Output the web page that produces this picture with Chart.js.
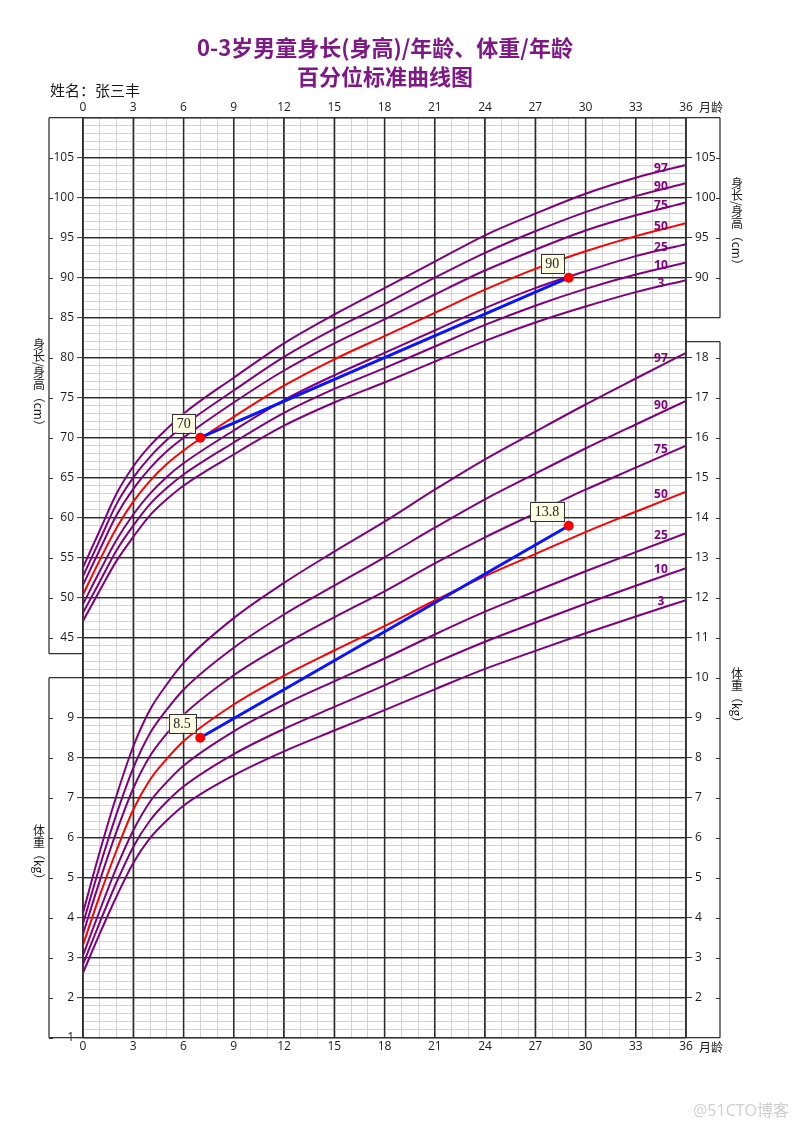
<!DOCTYPE html>
<html><head><meta charset="utf-8">
<script src="https://cdn.jsdelivr.net/npm/chart.js@4/dist/chart.umd.min.js"></script>
<style>html,body{margin:0;padding:0;background:#fff;}canvas{display:block}</style>
</head><body>
<canvas id="c" width="800" height="1131" style="width:800px;height:1131px"></canvas>
<script>
// ---------- data ----------
const ageMonths = [0,1,2,3,4,5,6,9,12,15,18,21,24,27,30,33,36];
const percentileNames = ['3','10','25','50','75','90','97'];

const heightP3  = [47.1,50.9,54.6,57.6,60.3,62.3,64.0,67.9,71.5,74.4,76.9,79.5,82.1,84.4,86.4,88.2,89.7];
const heightP10 = [48.1,52.0,55.9,59.0,61.7,63.7,65.4,69.4,73.1,76.1,78.7,81.4,84.1,86.5,88.6,90.4,91.9];
const heightP25 = [49.2,53.3,57.2,60.4,63.0,65.1,66.8,70.9,74.7,77.8,80.6,83.4,86.2,88.7,90.8,92.7,94.2];
const heightP50 = [50.4,54.7,58.7,62.0,64.6,66.7,68.4,72.6,76.5,79.8,82.7,85.6,88.5,91.1,93.3,95.2,96.8];
const heightP75 = [51.6,56.0,60.3,63.6,66.2,68.3,70.0,74.4,78.4,81.8,84.8,87.9,90.9,93.5,95.9,97.8,99.4];
const heightP90 = [52.7,57.2,61.7,65.0,67.6,69.7,71.5,75.9,80.1,83.6,86.7,90.0,93.1,95.8,98.2,100.2,101.8];
const heightP97 = [53.8,58.4,63.0,66.4,69.0,71.1,73.0,77.5,81.8,85.4,88.7,92.0,95.3,98.0,100.5,102.5,104.1];

const weightP3  = [2.62,3.60,4.53,5.37,5.99,6.43,6.80,7.56,8.16,8.68,9.19,9.71,10.22,10.67,11.11,11.53,11.94];
const weightP10 = [2.83,3.88,4.88,5.77,6.43,6.90,7.28,8.09,8.72,9.27,9.81,10.37,10.90,11.38,11.85,12.30,12.74];
const weightP25 = [3.06,4.18,5.25,6.18,6.90,7.39,7.80,8.66,9.33,9.91,10.48,11.08,11.65,12.16,12.66,13.14,13.61];
const weightP50 = [3.32,4.55,5.68,6.70,7.45,7.97,8.41,9.33,10.05,10.68,11.29,11.93,12.54,13.09,13.64,14.15,14.65];
const weightP75 = [3.59,4.92,6.15,7.23,8.04,8.60,9.07,10.06,10.83,11.51,12.16,12.86,13.51,14.11,14.70,15.25,15.80];
const weightP90 = [3.85,5.28,6.59,7.74,8.61,9.20,9.70,10.75,11.58,12.30,13.01,13.75,14.46,15.10,15.73,16.33,16.92];
const weightP97 = [4.12,5.65,7.05,8.28,9.20,9.83,10.37,11.49,12.37,13.15,13.90,14.70,15.46,16.15,16.83,17.48,18.12];

const childAges = [7, 29];
const childHeights = [70, 90];
const childWeights = [8.5, 13.8];

const monthTicks = [0,3,6,9,12,15,18,21,24,27,30,33,36];
const leftHeightTicks = [45,50,55,60,65,70,75,80,85,90,95,100,105];
const leftWeightTicks = [1,2,3,4,5,6,7,8,9];
const rightHeightTicks = [90,95,100,105];
const rightWeightTicks = [2,3,4,5,6,7,8,9,10,11,12,13,14,15,16,17,18];

// ---------- setup ----------
const heightSeries = [heightP3,heightP10,heightP25,heightP50,heightP75,heightP90,heightP97];
const weightSeries = [weightP3,weightP10,weightP25,weightP50,weightP75,weightP90,weightP97];
const W_MIN = 1, W_MAX = 24, H_MIN = -5, H_MAX = 110;
const hToW = h => W_MIN + (h - H_MIN) / (H_MAX - H_MIN) * (W_MAX - W_MIN);
const PURPLE = '#800080', RED = '#ff0000', BLUE = '#0a14ff';
const MAJOR = '#2a2a2a', MINOR = '#d3d3d3';
const FONT = "'Open Sans','Noto Sans CJK SC',sans-serif";
const CJK = "'Noto Sans CJK SC',sans-serif";

function labelFor(v, wt, ht) {
  const k = Math.round(v * 5);
  if (k % 5 !== 0) return '';
  const w = k / 5;
  if (wt.includes(w)) return String(w);
  for (const h of ht) if (Math.abs(hToW(h) - w) < 1e-6) return String(h);
  return '';
}

Chart.defaults.font.family = FONT;
Chart.defaults.font.size = 12;
Chart.defaults.color = '#1a1a1a';

const datasets = [];
datasets.push({
  data: childAges.map((a, i) => ({x: a, y: childHeights[i]})), yAxisID: 'yH',
  borderColor: BLUE, borderWidth: 3, pointRadius: 5, pointBackgroundColor: RED,
  pointBorderColor: RED, pointBorderWidth: 0, order: 0, tension: 0
});
datasets.push({
  data: childAges.map((a, i) => ({x: a, y: childWeights[i]})), yAxisID: 'yW',
  borderColor: BLUE, borderWidth: 3, pointRadius: 5, pointBackgroundColor: RED,
  pointBorderColor: RED, pointBorderWidth: 0, order: 0, tension: 0
});
heightSeries.forEach((s, i) => datasets.push({
  data: ageMonths.map((a, j) => ({x: a, y: s[j]})), yAxisID: 'yH',
  borderColor: i === 3 ? RED : PURPLE, borderWidth: 2, pointRadius: 0,
  cubicInterpolationMode: 'monotone', order: i === 3 ? 1 : 2
}));
weightSeries.forEach((s, i) => datasets.push({
  data: ageMonths.map((a, j) => ({x: a, y: s[j]})), yAxisID: 'yW',
  borderColor: i === 3 ? RED : PURPLE, borderWidth: 2, pointRadius: 0,
  cubicInterpolationMode: 'monotone', order: i === 3 ? 1 : 2
}));

function interpAt(series, age) {
  for (let j = 0; j < ageMonths.length - 1; j++) {
    if (age >= ageMonths[j] && age <= ageMonths[j + 1]) {
      const t = (age - ageMonths[j]) / (ageMonths[j + 1] - ageMonths[j]);
      return series[j] + t * (series[j + 1] - series[j]);
    }
  }
  return series[series.length - 1];
}

function drawVertical(ctx, text, cx, top, size) {
  let y = top;
  ctx.save();
  ctx.font = size + 'px ' + CJK;
  ctx.fillStyle = '#1a1a1a';
  ctx.textAlign = 'center';
  ctx.textBaseline = 'middle';
  for (const ch of text) {
    const isCJK = /[\u4e00-\u9fff]/.test(ch);
    const w = ctx.measureText(ch).width;
    if (isCJK) {
      ctx.fillText(ch, cx, y + size / 2);
      y += size;
    } else {
      ctx.save();
      ctx.translate(cx, y + w / 2);
      ctx.rotate(Math.PI / 2);
      ctx.fillText(ch, 0, 0);
      ctx.restore();
      y += w;
    }
  }
  ctx.restore();
}

const decor = {
  id: 'decor',
  beforeDatasetsDraw(chart) {
    // re-stroke major grid lines above the minor ones
    const ctx = chart.ctx;
    const {x, yW} = chart.scales;
    const a = chart.chartArea;
    ctx.save();
    ctx.strokeStyle = MAJOR;
    ctx.lineWidth = 1.3;
    monthTicks.forEach(m => {
      const px = x.getPixelForValue(m);
      ctx.beginPath(); ctx.moveTo(px, a.top); ctx.lineTo(px, a.bottom); ctx.stroke();
    });
    for (let w = W_MIN; w <= W_MAX; w++) {
      const py = yW.getPixelForValue(w);
      ctx.beginPath(); ctx.moveTo(a.left, py); ctx.lineTo(a.right, py); ctx.stroke();
    }
    ctx.restore();
  },
  afterDatasetsDraw(chart) {
    const ctx = chart.ctx;
    const {x, yH, yW} = chart.scales;
    ctx.save();
    // percentile labels
    ctx.font = "bold 12px " + FONT;
    ctx.fillStyle = PURPLE;
    ctx.textAlign = 'center';
    ctx.textBaseline = 'middle';
    const labAge = 34.5;
    const lx = x.getPixelForValue(labAge);
    heightSeries.forEach((s, i) => {
      ctx.fillText(percentileNames[i], lx, yH.getPixelForValue(interpAt(s, labAge)) - 3);
    });
    weightSeries.forEach((s, i) => {
      ctx.fillText(percentileNames[i], lx, yW.getPixelForValue(interpAt(s, labAge)) - 7);
    });
    // value boxes
    ctx.font = "14px 'Liberation Serif','DejaVu Serif',serif";
    [[0, childHeights], [1, childWeights]].forEach(([di, vals]) => {
      const meta = chart.getDatasetMeta(di);
      meta.data.forEach((pt, i) => {
        const txt = String(vals[i]);
        const tw = ctx.measureText(txt).width;
        const bw = tw + 9, bh = 19;
        const rx = pt.x - 5, by = pt.y - 5;
        ctx.fillStyle = '#ffffe3';
        ctx.fillRect(rx - bw, by - bh, bw, bh);
        ctx.strokeStyle = '#333';
        ctx.lineWidth = 1;
        ctx.strokeRect(Math.round(rx - bw) + 0.5, Math.round(by - bh) + 0.5, Math.round(bw), bh);
        ctx.fillStyle = '#222';
        ctx.textAlign = 'center';
        ctx.textBaseline = 'middle';
        ctx.fillText(txt, rx - bw / 2, by - bh / 2 + 1);
      });
    });
    ctx.restore();
  },
  afterDraw(chart) {
    const ctx = chart.ctx;
    const {x, yH, yW} = chart.scales;
    const a = chart.chartArea;
    const L = a.left - 34, R = a.right + 34;
    ctx.save();
    ctx.strokeStyle = '#333';
    ctx.lineWidth = 1.3;
    const line = (x1, y1, x2, y2) => { ctx.beginPath(); ctx.moveTo(x1, y1); ctx.lineTo(x2, y2); ctx.stroke(); };
    // outer border top/bottom
    line(L, a.top, R, a.top);
    line(L, a.bottom, R, a.bottom);
    line(a.left, a.top, a.left, a.bottom);
    line(a.right, a.top, a.right, a.bottom);
    // left frames
    const hb = yH.getPixelForValue(43), wt = yW.getPixelForValue(10);
    line(L, a.top, L, hb); line(L, hb, a.left, hb);
    line(L, wt, L, a.bottom); line(L, wt, a.left, wt);
    // right frames
    const rhb = yH.getPixelForValue(85), rwt = yW.getPixelForValue(18.4);
    line(R, a.top, R, rhb); line(a.right, rhb, R, rhb);
    line(R, rwt, R, a.bottom); line(a.right, rwt, R, rwt);
    // frame ticks
    ctx.lineWidth = 1;
    leftHeightTicks.forEach(h => { const y = Math.round(yH.getPixelForValue(h)) + 0.5; line(L, y, L + 4, y); });
    leftWeightTicks.forEach(w => { const y = Math.round(yW.getPixelForValue(w)) + 0.5; line(L, y, L + 4, y); });
    rightHeightTicks.forEach(h => { const y = Math.round(yH.getPixelForValue(h)) + 0.5; line(R - 4, y, R, y); });
    rightWeightTicks.forEach(w => { const y = Math.round(yW.getPixelForValue(w)) + 0.5; line(R - 4, y, R, y); });

    // titles
    ctx.fillStyle = '#7f1786';
    ctx.font = "bold 22px " + CJK;
    ctx.textAlign = 'center';
    ctx.textBaseline = 'middle';
    ctx.fillText('0-3岁男童身长(身高)/年龄、体重/年龄', 385, 48);
    ctx.fillText('百分位标准曲线图', 385, 77);
    ctx.fillStyle = '#1a1a1a';
    ctx.font = "15px " + CJK;
    ctx.textAlign = 'left';
    ctx.fillText('姓名：张三丰', 50, 90);
    ctx.font = "12px " + CJK;
    ctx.textAlign = 'left';
    ctx.fillText('月龄', 699, 107);
    ctx.fillText('月龄', 699, 1047);
    // axis titles
    drawVertical(ctx, '身长/身高（cm）', 39, 338, 12);
    drawVertical(ctx, '体重（kg）', 39, 824, 12);
    drawVertical(ctx, '身长/身高（cm）', 737, 177, 12);
    drawVertical(ctx, '体重（kg）', 737, 667, 12);
    // watermark
    ctx.fillStyle = '#cfcfcf';
    ctx.font = "16px " + FONT;
    ctx.textAlign = 'center';
    ctx.fillText('@51CTO博客', 741, 1111);
    ctx.restore();
  }
};

new Chart(document.getElementById('c'), {
  type: 'line',
  data: {datasets},
  options: {
    responsive: false,
    animation: false,
    layout: {padding: 0},
    plugins: {legend: {display: false}, tooltip: {enabled: false}, title: {display: false}},
    elements: {line: {borderJoinStyle: 'round', borderCapStyle: 'round'}},
    scales: {
      x: {
        type: 'linear', position: 'bottom', min: 0, max: 36,
        afterBuildTicks: ax => { ax.ticks = []; for (let m = 0; m <= 36; m++) ax.ticks.push({value: m}); },
        ticks: {autoSkip: false, maxRotation: 0, padding: 2, callback: v => monthTicks.includes(v) ? String(v) : ''},
        grid: {
          drawTicks: false,
          color: c => (c.tick && c.tick.value % 3 === 0) ? MAJOR : MINOR,
          lineWidth: c => (c.tick && c.tick.value % 3 === 0) ? 1.3 : 1
        },
        border: {display: false},
        afterFit: s => { s.height = 1131 - 1037.7; }
      },
      x2: {
        type: 'linear', position: 'top', min: 0, max: 36,
        afterBuildTicks: ax => { ax.ticks = monthTicks.map(v => ({value: v})); },
        ticks: {autoSkip: false, maxRotation: 0, padding: 3},
        grid: {display: false, drawTicks: false, tickLength: 0},
        border: {display: false},
        afterFit: s => { s.height = 117.7; }
      },
      yW: {
        type: 'linear', position: 'left', min: W_MIN, max: W_MAX,
        afterBuildTicks: ax => { ax.ticks = []; for (let k = W_MIN * 5; k <= W_MAX * 5; k++) ax.ticks.push({value: k / 5}); },
        ticks: {autoSkip: false, padding: 3, callback: v => labelFor(v, leftWeightTicks, leftHeightTicks)},
        grid: {
          tickLength: 6, tickWidth: 1,
          color: c => (c.tick && Math.round(c.tick.value * 5) % 5 === 0) ? MAJOR : MINOR,
          lineWidth: c => (c.tick && Math.round(c.tick.value * 5) % 5 === 0) ? 1.3 : 1,
          tickColor: c => (c.tick && labelFor(c.tick.value, leftWeightTicks, leftHeightTicks) !== '') ? '#333' : 'rgba(0,0,0,0)'
        },
        border: {display: false},
        afterFit: s => { s.width = 83; }
      },
      yH: {
        type: 'linear', position: 'left', min: H_MIN, max: H_MAX, display: false,
        afterFit: s => { s.width = 0; }
      },
      yR: {
        type: 'linear', position: 'right', min: W_MIN, max: W_MAX,
        afterBuildTicks: ax => {
          ax.ticks = rightWeightTicks.map(w => ({value: w}))
            .concat(rightHeightTicks.map(h => ({value: hToW(h)})))
            .sort((p, q) => p.value - q.value);
        },
        ticks: {autoSkip: false, padding: 3, callback: v => labelFor(v, rightWeightTicks, rightHeightTicks)},
        grid: {drawOnChartArea: false, tickLength: 6, tickWidth: 1, tickColor: '#333'},
        border: {display: false},
        afterFit: s => { s.width = 114; }
      }
    }
  },
  plugins: [decor]
});
</script>
</body></html>
